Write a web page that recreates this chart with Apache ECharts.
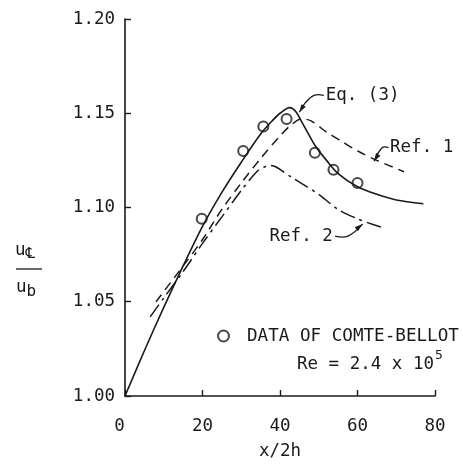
<!DOCTYPE html>
<html><head><meta charset="utf-8">
<script src="https://cdn.jsdelivr.net/npm/echarts@6/dist/echarts.min.js"></script>
<style>html,body{margin:0;padding:0;background:#fff}#c{width:463px;height:465px}</style>
</head><body><div id="c"></div>
<script>
// ---- data ----
const xTickLabels = ['0', '20', '40', '60', '80'];
const yTickLabels = ['1.00', '1.05', '1.10', '1.15', '1.20'];
const eq3X = [0, 5, 10, 15, 20, 25, 30, 35, 38, 40, 42.5, 44, 46, 49, 52, 55, 60, 65, 70, 77];
const eq3Y = [1.000, 1.024, 1.047, 1.069, 1.090, 1.108, 1.124, 1.139, 1.146, 1.150, 1.153, 1.151, 1.144, 1.133, 1.125, 1.118, 1.111, 1.107, 1.104, 1.102];
const ref1X = [8, 15, 20, 25, 30, 35, 40, 43, 45.5, 48, 52, 56, 60, 65, 72];
const ref1Y = [1.050, 1.069, 1.083, 1.099, 1.113, 1.126, 1.138, 1.144, 1.147, 1.146, 1.140, 1.135, 1.130, 1.125, 1.119];
const ref2X = [6.5, 10, 15, 20, 25, 30, 34, 36, 37.5, 39, 43, 47, 50, 55, 60, 64, 67];
const ref2Y = [1.042, 1.052, 1.066, 1.081, 1.095, 1.109, 1.119, 1.1215, 1.1223, 1.1215, 1.116, 1.111, 1.107, 1.099, 1.094, 1.091, 1.089];
const dataX = [19.8, 30.5, 35.7, 41.7, 49.0, 53.8, 60.0];
const dataY = [1.094, 1.130, 1.143, 1.147, 1.129, 1.120, 1.113];
const dataName = 'DATA OF COMTE-BELLOT';

const zip = (a, b) => a.map((v, i) => [v, b[i]]);
const FONT = 'DejaVu Sans Mono';
const FS = 17.5;
const INK = '#1a1a1a';

const chart = echarts.init(document.getElementById('c'), null, {renderer: 'canvas'});
const option = {
  animation: false,
  backgroundColor: '#fff',
  grid: {left: 125, right: 28, top: 19, bottom: 61},
  legend: {
    data: [{name: dataName, icon: 'emptyCircle'}],
    left: 212, top: 322, itemWidth: 11, itemHeight: 11, itemGap: 8,
    textStyle: {fontFamily: FONT, fontSize: 17.6, color: INK, padding: [0, 0, 0, 13]},
    selectedMode: false
  },
  xAxis: {
    type: 'value', min: 0, max: 80, interval: 20,
    name: 'x/2h', nameLocation: 'middle', nameGap: 46,
    nameTextStyle: {fontFamily: FONT, fontSize: FS, color: INK},
    axisLine: {lineStyle: {color: INK, width: 1.6}},
    axisTick: {inside: true, length: 6, lineStyle: {color: INK, width: 1.4}},
    axisLabel: {fontFamily: FONT, fontSize: FS, color: INK, margin: 21,
      formatter: v => { const i = Math.round(v / 20); return i === 0 ? '{z|' + xTickLabels[0] + '}' : xTickLabels[i]; },
      rich: {z: {fontFamily: FONT, fontSize: FS, color: INK, padding: [0, 11, 0, 0]}}},
    splitLine: {show: false}
  },
  yAxis: {
    type: 'value', min: 1.0, max: 1.2, interval: 0.05,
    axisLine: {lineStyle: {color: INK, width: 1.6}},
    axisTick: {inside: true, length: 6, lineStyle: {color: INK, width: 1.4}},
    axisLabel: {fontFamily: FONT, fontSize: FS, color: INK, margin: 10,
      formatter: v => yTickLabels[Math.round((v - 1) / 0.05)]},
    splitLine: {show: false}
  },
  series: [
    {name: 'Eq. (3)', type: 'line', data: zip(eq3X, eq3Y), smooth: 0.3, symbol: 'none',
      lineStyle: {color: INK, width: 1.6}},
    {name: 'Ref. 1', type: 'line', data: zip(ref1X, ref1Y), smooth: 0.3, symbol: 'none',
      lineStyle: {color: INK, width: 1.5, type: [9, 6]}},
    {name: 'Ref. 2', type: 'line', data: zip(ref2X, ref2Y), smooth: 0.3, symbol: 'none',
      lineStyle: {color: INK, width: 1.5, type: [15, 5, 3, 5]}},
    {name: dataName, type: 'scatter', data: zip(dataX, dataY), symbol: 'emptyCircle', symbolSize: 10,
      itemStyle: {color: INK, borderColor: INK, borderWidth: 1.7}}
  ]
};
chart.setOption(option);

// ---- annotations (anchored in data coordinates) ----
const P = (x, y) => chart.convertToPixel({gridIndex: 0}, [x, y]);
function arrowHead(tip, from) {
  const dx = tip[0] - from[0], dy = tip[1] - from[1];
  const L = Math.hypot(dx, dy) || 1, ux = dx / L, uy = dy / L;
  const len = 8, w = 2.6;
  const bx = tip[0] - ux * len, by = tip[1] - uy * len;
  return {type: 'polygon', shape: {points: [tip, [bx - uy * w, by + ux * w], [bx + uy * w, by - ux * w]]},
    style: {fill: INK}};
}
function leader(pts) {
  const px = pts.map(p => P(p[0], p[1]));
  return [
    {type: 'polyline', shape: {points: px, smooth: 0.4}, style: {stroke: INK, lineWidth: 1.3, fill: null}},
    arrowHead(px[px.length - 1], px[px.length - 2])
  ];
}
const txt = (s, x, y, align) => {
  const p = P(x, y);
  return {type: 'text', x: p[0], y: p[1],
    style: {text: s, font: FS + 'px "' + FONT + '"', fill: INK, align: align || 'left', verticalAlign: 'middle'}};
};

const g = [];
g.push(txt('Eq. (3)', 51.8, 1.1595));
g.push(...leader([[51.3, 1.1595], [48.8, 1.1595], [46.5, 1.1555], [45.0, 1.1505]]));
g.push(txt('Ref. 1', 68.4, 1.1318));
g.push(...leader([[68, 1.1318], [66.4, 1.1318], [64.3, 1.1245]]));
g.push(txt('Ref. 2', 37.3, 1.0848));
g.push(...leader([[54.2, 1.0848], [57.5, 1.0848], [61.3, 1.0912]]));

// Re = 2.4 x 10^5
g.push({type: 'text', x: 297, y: 361,
  style: {text: '{t|Re = 2.4 x 10}{s|5}', verticalAlign: 'middle',
    rich: {t: {font: FS + 'px "' + FONT + '"', fill: INK, verticalAlign: 'bottom'},
           s: {font: '13px "' + FONT + '"', fill: INK, verticalAlign: 'top', padding: [0, 0, 11, 1]}}}});

// y-axis title: u_CL / u_b
g.push({type: 'text', x: 15, y: 250,
  style: {text: '{u|u}{c|\u2104}', verticalAlign: 'middle',
    rich: {u: {font: FS + 'px "' + FONT + '"', fill: INK}, c: {font: '15px "DejaVu Sans"', fill: INK, padding: [9, 0, 0, 0]}}}});
g.push({type: 'line', shape: {x1: 16, y1: 269, x2: 42, y2: 269}, style: {stroke: INK, lineWidth: 1.3}});
g.push({type: 'text', x: 16, y: 287,
  style: {text: '{u|u}{b|b}', verticalAlign: 'middle',
    rich: {u: {font: FS + 'px "' + FONT + '"', fill: INK}, b: {font: '16px "' + FONT + '"', fill: INK, padding: [9, 0, 0, 0]}}}});

chart.setOption({graphic: {elements: g}});
</script>
</body></html>
